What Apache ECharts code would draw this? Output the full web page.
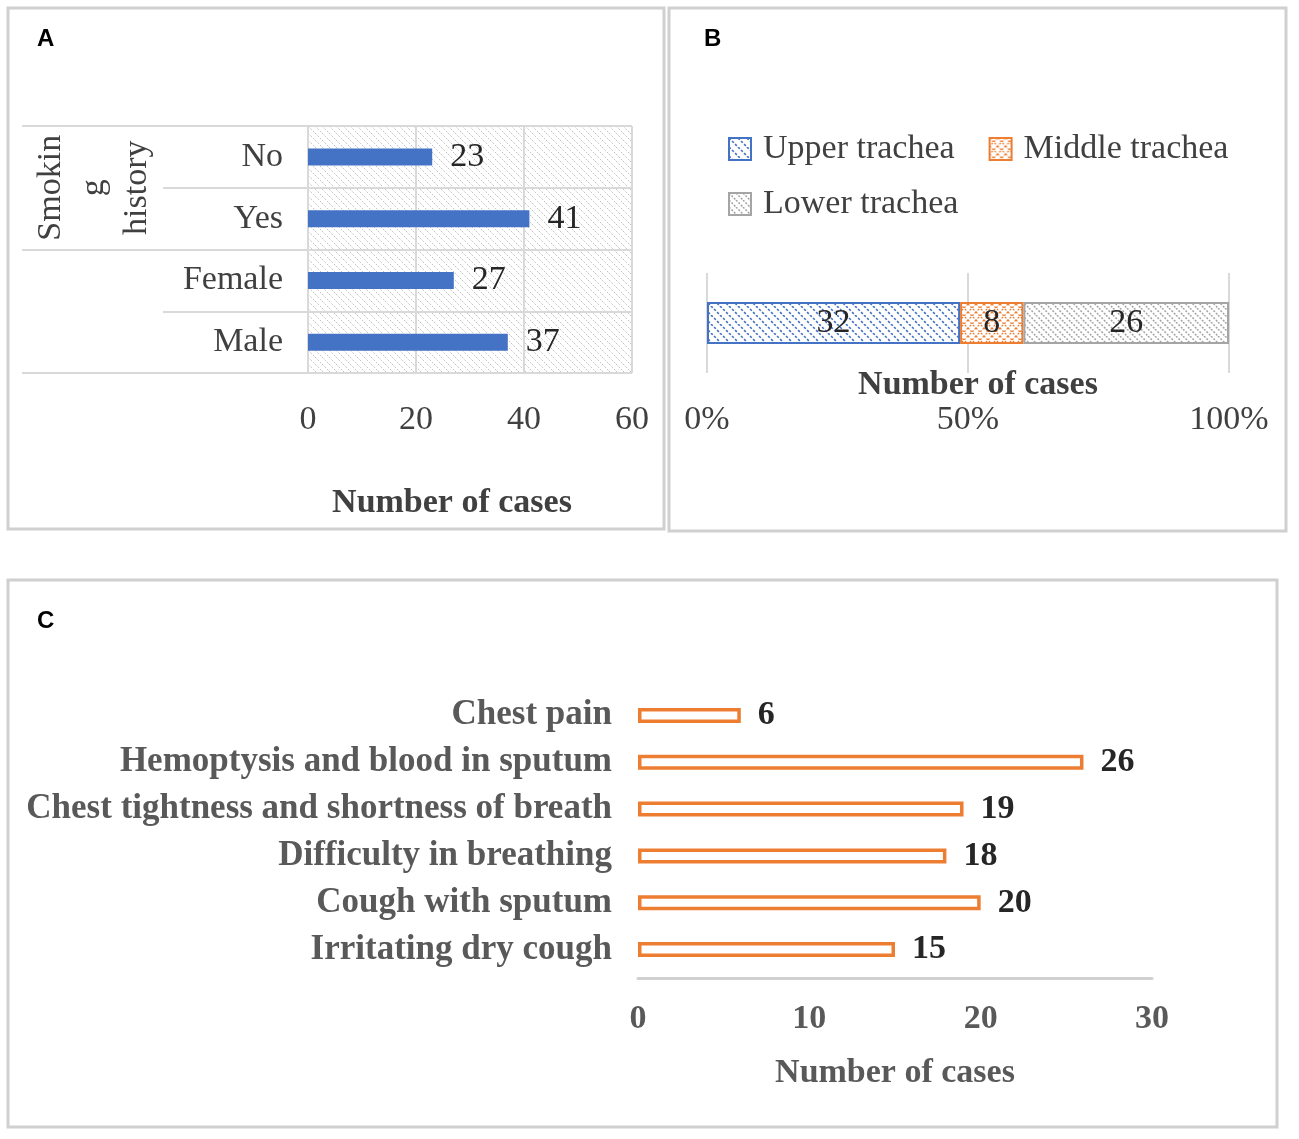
<!DOCTYPE html>
<html lang="en">
<head>
    <meta charset="UTF-8">
    <title>Cases</title>
    <script src="https://cdn.jsdelivr.net/npm/echarts/dist/echarts.min.js"></script>
    <style>
        html, body { margin: 0; padding: 0; background: #fff; }
        #main { width: 1299px; height: 1139px; }
    </style>
</head>
<body>
<div id="main"></div>
<script type="text/javascript">
    // panel A
    var aCats = ['No', 'Yes', 'Female', 'Male'];
    var aVals = [23, 41, 27, 37];
    var aGroups = ['Smokin\ng\nhistory', 'Gender'];
    // panel B
    var bNames = ['Upper trachea', 'Middle trachea', 'Lower trachea'];
    var bCounts = [32, 8, 26];
    // panel C
    var cCats = ['Chest pain', 'Hemoptysis and blood in sputum', 'Chest tightness and shortness of breath',
        'Difficulty in breathing', 'Cough with sputum', 'Irritating dry cough'];
    var cVals = [6, 26, 19, 18, 20, 15];

    var SERIF = '"Liberation Serif", "Times New Roman", serif';
    var SANS = '"Liberation Sans", Arial, sans-serif';

    // diagonal hatch tiles
    function hatch(size, bg, fg, lw, dash, cross) {
        var c = document.createElement('canvas');
        c.width = size; c.height = size;
        var g = c.getContext('2d');
        g.fillStyle = bg;
        g.fillRect(0, 0, size, size);
        g.strokeStyle = fg;
        g.lineWidth = lw;
        if (dash) g.setLineDash(dash);
        g.beginPath();
        [-size, 0, size].forEach(function (o) {
            g.moveTo(o, 0); g.lineTo(o + size, size);
            if (cross) { g.moveTo(o + size, 0); g.lineTo(o, size); }
        });
        g.stroke();
        return { image: c, repeat: 'repeat' };
    }

    var gridHatch = hatch(7, '#ffffff', '#c4c4c4', 1, [2, 1.5]);
    var bFills = [
        hatch(9, '#ffffff', '#4472C4', 1.6, [2.5, 1.8]),
        hatch(8, '#ffffff', '#ED7D31', 1.3, [2, 1.5], true),
        hatch(7, '#ffffff', '#A5A5A5', 1.5, [2, 1.5])
    ];
    var bBorders = ['#4472C4', '#ED7D31', '#A5A5A5'];

    var total = bCounts.reduce(function (s, v) { return s + v; }, 0);

    var legendBase = {
        left: 728,
        padding: 0,
        itemWidth: 22,
        itemHeight: 22,
        itemGap: 34,
        icon: 'rect',
        textStyle: { fontFamily: SERIF, fontSize: 34, color: '#404040', padding: [0, 0, 0, 7] }
    };

    var chart = echarts.init(document.getElementById('main'));
    var option = {
        animation: false,
        backgroundColor: '#ffffff',
        graphic: [
            { type: 'rect', shape: { x: 8, y: 8, width: 656, height: 521 }, style: { fill: 'none', stroke: '#d0d0d0', lineWidth: 3 } },
            { type: 'rect', shape: { x: 669, y: 8, width: 617, height: 523 }, style: { fill: 'none', stroke: '#d0d0d0', lineWidth: 3 } },
            { type: 'rect', shape: { x: 8, y: 580, width: 1269, height: 547 }, style: { fill: 'none', stroke: '#d0d0d0', lineWidth: 3 } },
            { type: 'text', left: 37, top: 27, style: { text: 'A', font: 'bold 24px ' + SANS, fill: '#000' } },
            { type: 'text', left: 704, top: 27, style: { text: 'B', font: 'bold 24px ' + SANS, fill: '#000' } },
            { type: 'text', left: 37, top: 609, style: { text: 'C', font: 'bold 24px ' + SANS, fill: '#000' } }
        ],
        legend: [
            Object.assign({ data: bNames.slice(0, 2), top: 132 }, legendBase),
            Object.assign({ data: bNames.slice(2), top: 187 }, legendBase)
        ],
        grid: [
            { left: 308, right: 667, top: 126, bottom: 766, show: true, borderWidth: 0, backgroundColor: gridHatch },
            { left: 707, width: 522, top: 273, height: 100 },
            { left: 638, width: 514, top: 692, height: 281 }
        ],
        xAxis: [
            {
                gridIndex: 0, type: 'value', min: 0, max: 60, interval: 20,
                axisLine: { show: false }, axisTick: { show: false },
                splitLine: { show: true, lineStyle: { color: '#d9d9d9', width: 2 } },
                axisLabel: { margin: 30, fontFamily: SERIF, fontSize: 34, color: '#404040' },
                name: 'Number of cases', nameLocation: 'middle', nameGap: 113,
                nameTextStyle: { fontFamily: SERIF, fontSize: 34, fontWeight: 'bold', color: '#404040', padding: [0, 36, 0, 0] }
            },
            {
                gridIndex: 1, type: 'value', min: 0, max: 100, interval: 50,
                axisLine: { show: false }, axisTick: { show: false },
                splitLine: { show: true, lineStyle: { color: '#d9d9d9', width: 2 } },
                axisLabel: { margin: 30, fontFamily: SERIF, fontSize: 34, color: '#404040', formatter: '{value}%' },
                name: 'Number of cases', nameLocation: 'middle', nameGap: -5, nameMoveOverlap: false,
                nameTextStyle: { fontFamily: SERIF, fontSize: 34, fontWeight: 'bold', color: '#404040', padding: [0, 0, 0, 20] }
            },
            {
                gridIndex: 2, type: 'value', min: 0, max: 30, interval: 10, offset: 5,
                axisLine: { show: true, lineStyle: { color: '#d0d0d0', width: 3 } },
                axisTick: { show: false }, splitLine: { show: false },
                axisLabel: { margin: 24, fontFamily: SERIF, fontSize: 34, fontWeight: 'bold', color: '#595959' },
                name: 'Number of cases', nameLocation: 'middle', nameGap: 78,
                nameTextStyle: { fontFamily: SERIF, fontSize: 34, fontWeight: 'bold', color: '#595959' }
            }
        ],
        yAxis: [
            {
                gridIndex: 0, type: 'category', data: aCats, inverse: true,
                axisLine: { show: false },
                axisTick: { show: true, length: 145, interval: 0, lineStyle: { color: '#d9d9d9', width: 2 } },
                splitLine: { show: true, interval: 0, lineStyle: { color: '#d9d9d9', width: 2 } },
                axisLabel: { margin: 25, fontFamily: SERIF, fontSize: 34, color: '#404040' }
            },
            {
                gridIndex: 0, type: 'category', data: aGroups, inverse: true, position: 'left',
                axisLine: { show: false },
                axisTick: { show: true, length: 286, interval: 0, lineStyle: { color: '#d9d9d9', width: 2 } },
                axisLabel: { margin: 149, rotate: 90, lineHeight: 43, fontFamily: SERIF, fontSize: 34, color: '#404040' }
            },
            {
                gridIndex: 1, type: 'category', data: [''], show: false
            },
            {
                gridIndex: 2, type: 'category', data: cCats, inverse: true,
                axisLine: { show: false }, axisTick: { show: false },
                axisLabel: { margin: 26, fontFamily: SERIF, fontSize: 35, fontWeight: 'bold', color: '#595959' }
            }
        ],
        series: [
            {
                type: 'bar', xAxisIndex: 0, yAxisIndex: 0, data: aVals, barWidth: 17,
                itemStyle: { color: '#4472C4' },
                label: { show: true, position: 'right', distance: 18, fontFamily: SERIF, fontSize: 34, color: '#262626' }
            }
        ].concat(bNames.map(function (name, i) {
            return {
                type: 'bar', name: name, stack: 'trachea', xAxisIndex: 1, yAxisIndex: 2,
                data: [bCounts[i] / total * 100], barWidth: 42,
                itemStyle: { color: bFills[i], borderColor: bBorders[i], borderWidth: 2 },
                label: {
                    show: true, position: 'inside', fontFamily: SERIF, fontSize: 34, color: '#262626',
                    formatter: function () { return bCounts[i]; }
                }
            };
        })).concat([
            {
                type: 'bar', xAxisIndex: 2, yAxisIndex: 3, data: cVals, barWidth: 15,
                itemStyle: { color: '#ffffff', borderColor: '#ED7D31', borderWidth: 3.5 },
                label: { show: true, position: 'right', distance: 17, fontFamily: SERIF, fontSize: 34, fontWeight: 'bold', color: '#262626' }
            }
        ])
    };
    chart.setOption(option);
</script>
</body>
</html>
